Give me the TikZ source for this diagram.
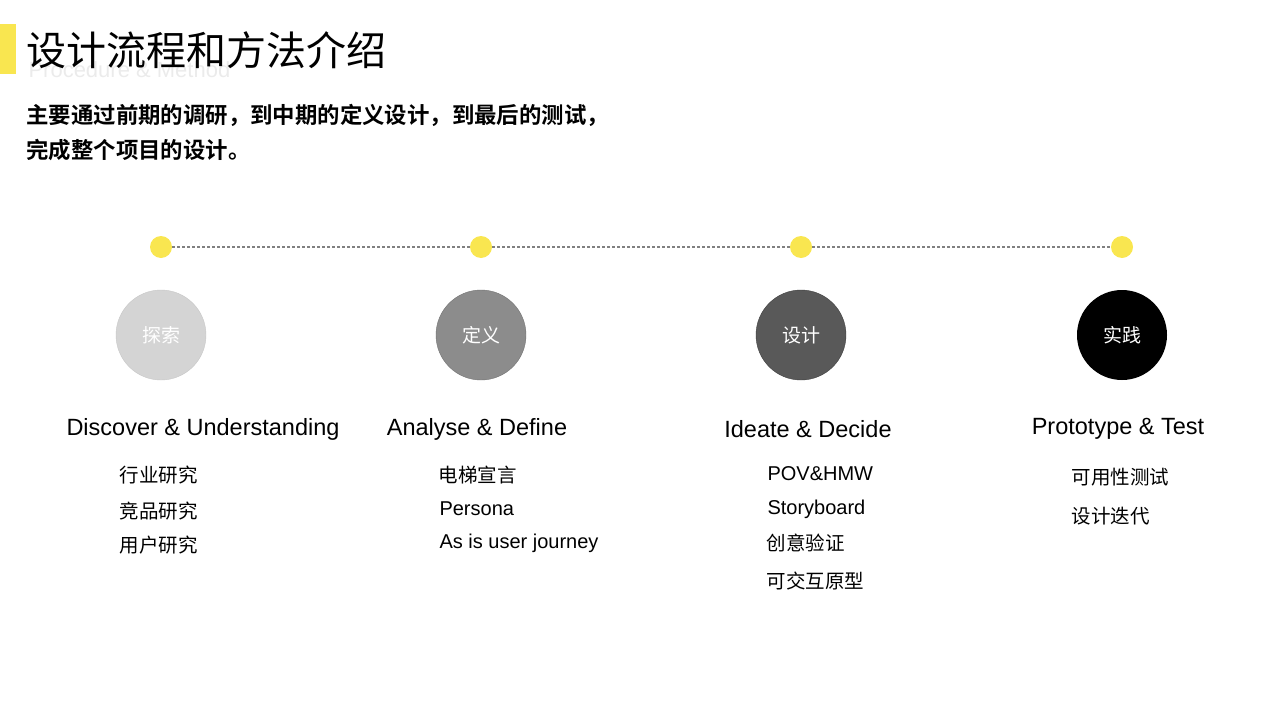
\documentclass[tikz,border=0pt]{standalone}
\usepackage{fontspec}
\setmainfont{Noto Sans CJK SC}
\newfontfamily\cjkbold{Noto Sans CJK SC Bold}
\newfontfamily\latin{Liberation Sans}
\definecolor{markyellow}{HTML}{F9E650}
\tikzset{
  dot/.style={circle, fill=markyellow, minimum size=22pt, inner sep=0pt},
  phase/.style={circle, minimum size=90pt, inner sep=0pt, text=white, font=\fontsize{19}{19}\selectfont},
  heading/.style={font=\fontsize{23.5}{23.5}\selectfont\latin},
  item/.style={anchor=west, font=\fontsize{19.5}{19.5}\selectfont},
  itemlatin/.style={item, font=\fontsize{20}{20}\selectfont\latin}
}
\begin{document}
\begin{tikzpicture}[x=1pt, y=-1pt]
    \useasboundingbox (0,0) rectangle (1280,720);
    % title
    \fill[markyellow] (0,24) rectangle (16,74);
    \node[anchor=west, text=black!8, font=\fontsize{22}{22}\selectfont\latin] (sub) at (25,70) {Procedure \& Method};
    \node[anchor=west, font=\fontsize{40}{40}\selectfont] (title) at (23,50) {设计流程和方法介绍};
    \node[anchor=west, font=\fontsize{22.4}{22.4}\selectfont\cjkbold] (intro1) at (23,115) {主要通过前期的调研，到中期的定义设计，到最后的测试，};
    \node[anchor=west, font=\fontsize{22.4}{22.4}\selectfont\cjkbold] (intro2) at (23,150) {完成整个项目的设计。};

    % timeline
    \node[dot] (d1) at (161,247) {};
    \node[dot] (d2) at (481,247) {};
    \node[dot] (d3) at (801,247) {};
    \node[dot] (d4) at (1122,247) {};
    \draw[gray, dash pattern=on 3pt off 2pt, line width=1.2pt] (d1) -- (d2) -- (d3) -- (d4);

    % phases
    \node[phase, fill=black!17, draw=black!22] (p1) at (161,335) {探索};
    \node[phase, fill=black!45, draw=black!55] (p2) at (481,335) {定义};
    \node[phase, fill=black!65, draw=black!75] (p3) at (801,335) {设计};
    \node[phase, fill=black] (p4) at (1122,335) {实践};

    \node[heading] (h1) at (203,429) {Discover \& Understanding};
    \node[heading] (h2) at (477,429) {Analyse \& Define};
    \node[heading] (h3) at (808,429) {Ideate \& Decide};
    \node[heading] (h4) at (1118,429) {Prototype \& Test};

    % lists
    \node[item] (a1) at (116,475) {行业研究};
    \node[item] (a2) at (116,511) {竞品研究};
    \node[item] (a3) at (116,545) {用户研究};
    \node[item] (b1) at (435,475) {电梯宣言};
    \node[itemlatin] (b2) at (436,509) {Persona};
    \node[itemlatin] (b3) at (436,543) {As is user journey};
    \node[itemlatin] (c1) at (764,474) {POV\&HMW};
    \node[itemlatin] (c2) at (764,509) {Storyboard};
    \node[item] (c3) at (763,543) {创意验证};
    \node[item] (c4) at (763,581) {可交互原型};
    \node[item] (e1) at (1068,477) {可用性测试};
    \node[item] (e2) at (1068,516) {设计迭代};
\end{tikzpicture}
\end{document}
